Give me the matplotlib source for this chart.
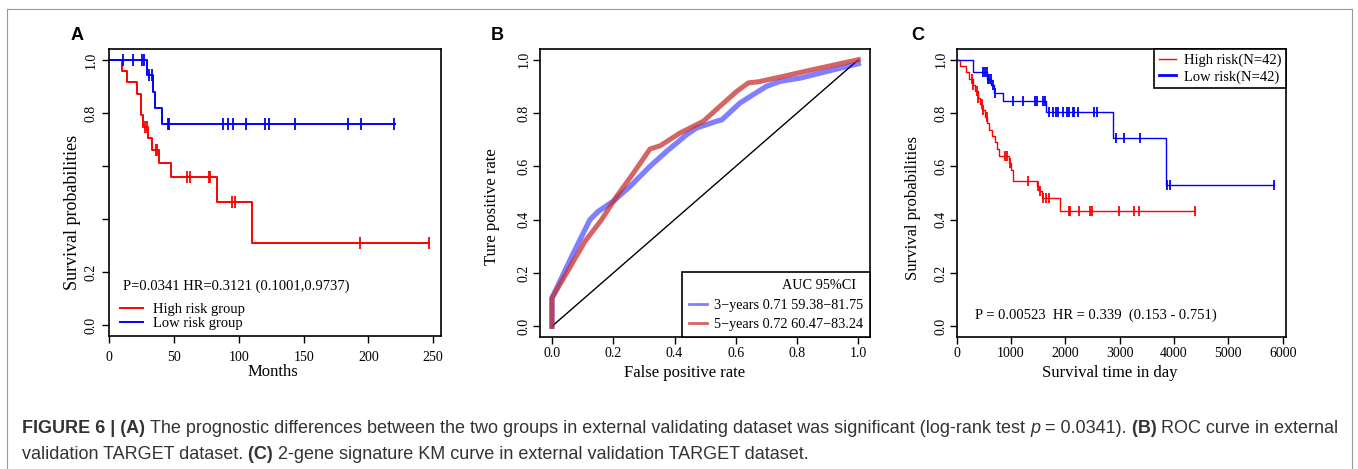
import numpy as np
import matplotlib
matplotlib.use("Agg")
import matplotlib.pyplot as plt
from matplotlib.lines import Line2D

plt.rcParams['font.family'] = ['Liberation Serif', 'DejaVu Serif']
plt.rcParams['axes.linewidth'] = 1.2

# ---- panel A: KM in external validating dataset (months)
a_high_t = [0, 10.1, 13.4, 21.2, 24.5, 26.3, 30.2, 32.8, 38.7, 47.5, 83.0, 110.0]
a_high_s = [1.0, 0.957, 0.915, 0.873, 0.792, 0.748, 0.704, 0.660, 0.610, 0.559, 0.466, 0.309]
a_high_end = 246.6
a_high_cens = [27.6, 28.9, 35.9, 37.1, 59.8, 62.4, 77.1, 78.1, 94.6, 97.2, 193.3, 246.6]

a_low_t = [0, 28.9, 33.5, 35.3, 40.5]
a_low_s = [1.0, 0.942, 0.880, 0.817, 0.757]
a_low_end = 220.5
a_low_cens = [10.9, 18.2, 25.6, 26.8, 30.9, 32.8, 45.1, 45.8, 87.4, 91.5, 95.1,
              105.4, 119.8, 122.9, 143.0, 184.3, 194.3, 219.8]
a_xticks = [0, 50, 100, 150, 200, 250]
a_yticks = [0.0, 0.2, 0.4, 0.6, 0.8, 1.0]
a_yticklabels = ['0.0', '0.2', '', '', '0.8', '1.0']

# ---- panel B: ROC
fpr3 = [0, 0, 0.07, 0.124, 0.151, 0.2, 0.255, 0.32, 0.374, 0.44, 0.472, 0.537,
        0.555, 0.614, 0.657, 0.70, 0.745, 0.81, 0.897, 1.0]
tpr3 = [0, 0.106, 0.275, 0.40, 0.431, 0.469, 0.525, 0.60, 0.656, 0.719, 0.744, 0.769,
        0.775, 0.838, 0.869, 0.90, 0.919, 0.931, 0.956, 0.985]
fpr5 = [0, 0, 0.048, 0.108, 0.162, 0.211, 0.266, 0.32, 0.353, 0.418, 0.494, 0.548,
        0.603, 0.641, 0.674, 0.745, 0.853, 1.0]
tpr5 = [0, 0.106, 0.20, 0.319, 0.40, 0.487, 0.575, 0.665, 0.677, 0.725, 0.769, 0.825,
        0.881, 0.913, 0.917, 0.935, 0.963, 1.0]
roc_labels = ['3\u2212years 0.71 59.38\u221281.75', '5\u2212years 0.72 60.47\u221283.24']
b_ticks = [0.0, 0.2, 0.4, 0.6, 0.8, 1.0]

# ---- panel C: KM 2-gene signature (days)
c_high_t = [0, 60, 170, 230, 300, 340, 390, 430, 470, 530, 560, 600, 650, 700, 740,
            775, 960, 1000, 1043, 1480, 1520, 1564, 1902]
c_high_s = [1.0, 0.976, 0.952, 0.929, 0.905, 0.881, 0.857, 0.833, 0.810, 0.786, 0.762,
            0.738, 0.714, 0.690, 0.665, 0.638, 0.612, 0.585, 0.545, 0.527, 0.508, 0.480, 0.433]
c_high_end = 4380
c_high_cens = [276, 307, 368, 399, 460, 491, 552, 890, 932, 982, 1319, 1503, 1534, 1595,
               1644, 1705, 2067, 2092, 2245, 2454, 2491, 2994, 3270, 3362, 4380]

c_low_t = [0, 294, 560, 640, 690, 860, 1643, 2882, 3851]
c_low_s = [1.0, 0.952, 0.929, 0.905, 0.874, 0.845, 0.805, 0.705, 0.530]
c_low_end = 5838
c_low_cens = [490, 521, 552, 570, 600, 625, 662, 700, 1030, 1214, 1440, 1472, 1594, 1625,
              1704, 1766, 1827, 1870, 1962, 2024, 2072, 2134, 2159, 2238, 2526, 2587,
              2931, 3084, 3373, 3875, 3925, 5838]
c_xticks = [0, 1000, 2000, 3000, 4000, 5000, 6000]
c_yticks = [0.0, 0.2, 0.4, 0.6, 0.8, 1.0]

W, H = 1358, 469
fig = plt.figure(figsize=(W / 100, H / 100), dpi=100)


def box(l, t, r, b):
    return [l / W, 1 - b / H, (r - l) / W, (b - t) / H]


def km(ax, t, s, end, cens, color, lw, ms, label):
    tt = list(t) + [end]
    ss = list(s) + [s[-1]]
    line, = ax.step(tt, ss, where='post', color=color, lw=lw, label=label)
    idx = np.searchsorted(t, cens, side='right') - 1
    ax.plot(cens, np.array(s)[idx], ls='none', marker='|', ms=ms, mew=1.3, color=color)
    return line


def style_y(ax, pad):
    ax.tick_params(axis='y', labelrotation=90, pad=pad)
    for lb in ax.get_yticklabels():
        lb.set_va('center')


# ---------------- A
axA = fig.add_axes(box(109.3, 49.3, 441, 336))
km(axA, a_high_t, a_high_s, a_high_end, a_high_cens, 'red', 1.4, 8, 'High risk group')
km(axA, a_low_t, a_low_s, a_low_end, a_low_cens, 'blue', 1.4, 8, 'Low risk group')
axA.set_xlim(0, 256)
axA.set_ylim(-0.04, 1.04)
axA.set_xticks(a_xticks)
axA.set_yticks(a_yticks)
axA.set_yticklabels(a_yticklabels)
axA.tick_params(axis='both', direction='out', length=5, width=1, labelsize=10)
axA.tick_params(axis='x', pad=6)
style_y(axA, 3.5)
axA.set_xlabel('Months', fontsize=12)
axA.xaxis.set_label_coords(0.494, -0.1245)
axA.xaxis.label.set_va('center')
axA.set_ylabel('Survival probabilities', fontsize=13)
axA.yaxis.set_label_coords(-0.111, 0.43)
axA.yaxis.label.set_va('center')
axA.text(0.04, 0.172, 'P=0.0341 HR=0.3121 (0.1001,0.9737)', transform=axA.transAxes,
         fontsize=10.5, va='center', ha='left')
axA.legend(loc='lower left', bbox_to_anchor=(0.032, 0.022), frameon=False, fontsize=10.5,
           handlelength=1.6, handletextpad=0.7, labelspacing=0.0, borderpad=0,
           borderaxespad=0)

# ---------------- B
axB = fig.add_axes(box(540, 49, 870, 337))
axB.plot([0, 1], [0, 1], color='black', lw=1)
axB.plot(fpr3, tpr3, color='#0000ff', alpha=0.5, lw=3.8, solid_joinstyle='round')
axB.plot(fpr5, tpr5, color='#c83232', alpha=0.75, lw=3.6, solid_joinstyle='round')
axB.set_xlim(-0.039, 1.038)
axB.set_ylim(-0.04, 1.04)
axB.set_xticks(b_ticks)
axB.set_yticks(b_ticks)
axB.tick_params(axis='both', direction='out', length=5, width=1, labelsize=10)
axB.tick_params(axis='x', pad=2.5)
style_y(axB, 1.5)
axB.set_xlabel('False positive rate', fontsize=12)
axB.xaxis.set_label_coords(0.439, -0.124)
axB.xaxis.label.set_va('center')
axB.set_ylabel('Ture positive rate', fontsize=12)
axB.yaxis.set_label_coords(-0.144, 0.452)
axB.yaxis.label.set_va('center')
hB = [Line2D([], [], color='#0000ff', alpha=0.5, lw=2),
      Line2D([], [], color='#c83232', alpha=0.75, lw=2)]
legB = axB.legend(hB, roc_labels, loc='lower right', title='AUC 95%CI  ', alignment='right',
                  fontsize=10.3, title_fontsize=10.3, handlelength=1.3, handletextpad=0.5,
                  labelspacing=0.4, borderpad=0.45, borderaxespad=0, fancybox=False,
                  edgecolor='black', framealpha=1)
legB.get_frame().set_linewidth(1.2)
legB._legend_box.sep = 5

# ---------------- C
axC = fig.add_axes(box(956.7, 49, 1286, 337))
km(axC, c_high_t, c_high_s, c_high_end, c_high_cens, 'red', 1.0, 7, 'High risk(N=42)')
km(axC, c_low_t, c_low_s, c_low_end, c_low_cens, 'blue', 1.0, 7, 'Low risk(N=42)')
axC.set_xlim(0, 6061)
axC.set_ylim(-0.04, 1.04)
axC.set_xticks(c_xticks)
axC.set_yticks(c_yticks)
axC.tick_params(axis='both', direction='out', length=5, width=1, labelsize=10)
axC.tick_params(axis='x', pad=2.5)
style_y(axC, 1.5)
axC.set_xlabel('Survival time in day', fontsize=12)
axC.xaxis.set_label_coords(0.4655, -0.124)
axC.xaxis.label.set_va('center')
axC.set_ylabel('Survival probabilities', fontsize=12)
axC.yaxis.set_label_coords(-0.134, 0.448)
axC.yaxis.label.set_va('center')
axC.text(0.0556, 0.074, 'P = 0.00523  HR = 0.339  (0.153 - 0.751)', transform=axC.transAxes,
         fontsize=10.5, va='center', ha='left')
hC = [Line2D([], [], color='red', lw=1), Line2D([], [], color='blue', lw=2)]
legC = axC.legend(hC, ['High risk(N=42)', 'Low risk(N=42)'], loc='upper right',
                  fontsize=10.5, handlelength=1.2, handletextpad=0.55, labelspacing=0.22,
                  borderpad=0.3, borderaxespad=0, fancybox=False, edgecolor='black',
                  framealpha=1)
legC.get_frame().set_linewidth(1.2)

# panel letters
for lab, x in [('A', 76.7), ('B', 497), ('C', 917.3)]:
    fig.text(x / W, 1 - 35 / H, lab, fontsize=13, fontweight='bold', ha='center',
             va='center', family=['Liberation Sans', 'DejaVu Sans'])

# outer frame
fc = '#999999'
fig.add_artist(Line2D([7 / W, 1352 / W], [1 - 9 / H, 1 - 9 / H], color=fc, lw=0.8))
fig.add_artist(Line2D([7 / W, 7 / W], [1 - 9 / H, 0], color=fc, lw=0.8))
fig.add_artist(Line2D([1352 / W, 1352 / W], [1 - 9 / H, 0], color=fc, lw=0.8))

# caption, drawn run by run
cap_font = ['Liberation Sans Narrow', 'Liberation Sans', 'DejaVu Sans']
cap_color = '#333333'
line1 = [('FIGURE 6 | (A) ', 'bold', 'normal'),
         ('The prognostic differences between the two groups in external validating '
          'dataset was significant (log-rank test ', 'normal', 'normal'),
         ('p', 'normal', 'italic'),
         (' = 0.0341). ', 'normal', 'normal'),
         ('(B) ', 'bold', 'normal'),
         ('ROC curve in external', 'normal', 'normal')]
line2 = [('validation TARGET dataset. ', 'normal', 'normal'),
         ('(C) ', 'bold', 'normal'),
         ('2-gene signature KM curve in external validation TARGET dataset.', 'normal', 'normal')]

renderer = fig.canvas.get_renderer()


def run_width(s, fs, weight, style):
    t1 = fig.text(0, 0, s + '|', fontsize=fs, fontweight=weight, fontstyle=style, family=cap_font)
    t2 = fig.text(0, 0, '|', fontsize=fs, fontweight=weight, fontstyle=style, family=cap_font)
    w = t1.get_window_extent(renderer).width - t2.get_window_extent(renderer).width
    t1.remove()
    t2.remove()
    return w


def draw_runs(runs, x0, ybase, fs):
    x = x0
    for s, wt, st in runs:
        fig.text(x / W, 1 - ybase / H, s, fontsize=fs, fontweight=wt, fontstyle=st,
                 family=cap_font, color=cap_color, ha='left', va='baseline')
        x += run_width(s, fs, wt, st)


w10 = sum(run_width(s, 10, wt, st) for s, wt, st in line1)
cap_fs = 10 * (1340.5 - 22) / w10
draw_runs(line1, 22, 433, cap_fs)
draw_runs(line2, 22, 459.3, cap_fs)

fig.savefig('out.png', dpi=100)
